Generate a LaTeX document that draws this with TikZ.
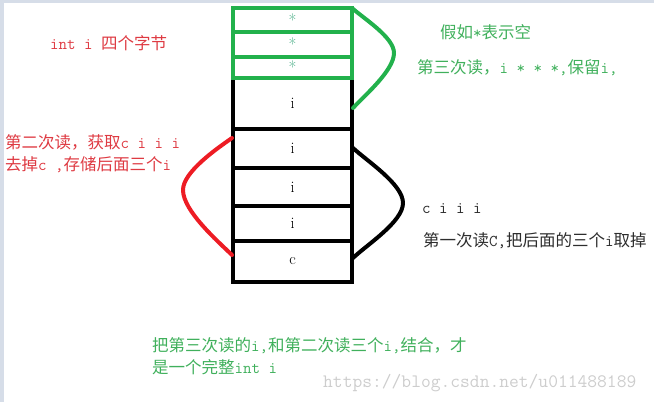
\documentclass[tikz,border=0pt]{standalone}
\usepackage{fontspec}
\newfontfamily\cjk{Noto Sans CJK SC}
\definecolor{paintgreen}{RGB}{34,177,76}
\definecolor{paintred}{RGB}{237,28,36}
\definecolor{notered}{RGB}{222,58,66}
\definecolor{notegreen}{RGB}{64,176,92}
\definecolor{startext}{RGB}{70,172,132}
\definecolor{notegray}{RGB}{45,45,45}
\definecolor{markgray}{RGB}{205,205,205}
\definecolor{edgegray}{RGB}{214,221,232}

\begin{document}
\begin{tikzpicture}[x=1pt,y=1pt,
	box_node/.style={draw,line width=3.3pt,minimum width=119pt,inner sep=0pt,outer sep=0pt,font=\fontsize{16}{16}\selectfont},
	star_node/.style={box_node,draw=paintgreen,line width=4pt,text=startext,font=\fontsize{17}{17}\selectfont},
	note_text/.style={anchor=west,inner sep=0pt,align=left,font=\fontsize{16.5}{22}\selectfont\ttfamily},
	brace_line/.style={line width=4pt,line cap=round,line join=round,looseness=0.65}]
		
		\useasboundingbox (0,0) rectangle (654,-402);
		\fill[edgegray] (0,0) rectangle (4,-402);
		\fill[edgegray] (0,0) rectangle (654,-3);
		
		\node[box_node,minimum height=51pt] (i1) at (292.5,-103.5) {i};
		\node[box_node,minimum height=39pt] (i2) at (292.5,-148.5) {i};
		\node[box_node,minimum height=38pt] (i3) at (292.5,-187) {i};
		\node[box_node,minimum height=35pt] (i4) at (292.5,-223.5) {i};
		\node[box_node,minimum height=41pt] (c1) at (292.5,-261.5) {c};
		
		\node[star_node,minimum height=24pt] (s1) at (292.5,-20) {*};
		\node[star_node,minimum height=25pt] (s2) at (292.5,-44.5) {*};
		\node[star_node,minimum height=21pt] (s3) at (292.5,-67.5) {*};
		
		\coordinate (gtip) at (394,-53);
		\coordinate (gend) at (353,-108);
		\coordinate (bstart) at (353,-148);
		\coordinate (btip) at (403,-203);
		\coordinate (bend) at (353,-258);
		\coordinate (rstart) at (232,-138);
		\coordinate (rtip) at (183,-190);
		\coordinate (rend) at (232,-255);
		
		\draw[brace_line,paintgreen] (s1.north east) to[out=-42,in=90] (gtip) to[out=-90,in=47] (gend);
		\draw[brace_line,black] (bstart) to[out=-43,in=90] (btip) to[out=-90,in=44] (bend);
		\draw[brace_line,paintred] (rstart) to[out=215,in=90] (rtip) to[out=-90,in=136] (rend);
		
		\node[note_text,text=notered] (bytes) at (50,-43) {int i {\cjk 四个字节}};
		\node[note_text,text=notegreen] (empty) at (440,-32) {{\cjk 假如}*{\cjk 表示空}};
		\node[note_text,text=notegreen] (third) at (417,-68) {{\cjk 第三次读，}i * * *,{\cjk 保留}i,};
		\node[note_text,text=notered] (second) at (5,-154) {{\cjk 第二次读，获取}c i i i\\{\cjk 去掉}c ,{\cjk 存储后面三个}i};
		\node[note_text,text=notegray] (ciii) at (422,-209) {c i i i};
		\node[note_text,text=notegray] (first) at (423,-241) {{\cjk 第一次读}C,{\cjk 把后面的三个}i{\cjk 取掉}};
		\node[note_text,text=notegreen] (combine) at (152,-356.5) {{\cjk 把第三次读的}i,{\cjk 和第二次读三个}i,{\cjk 结合，才}\\{\cjk 是一个完整}int i};
		\node[note_text,text=markgray,font=\fontsize{19}{19}\selectfont\ttfamily] (mark) at (323,-383) {https://blog.csdn.net/u011488189};
		\end{tikzpicture}
\end{document}
